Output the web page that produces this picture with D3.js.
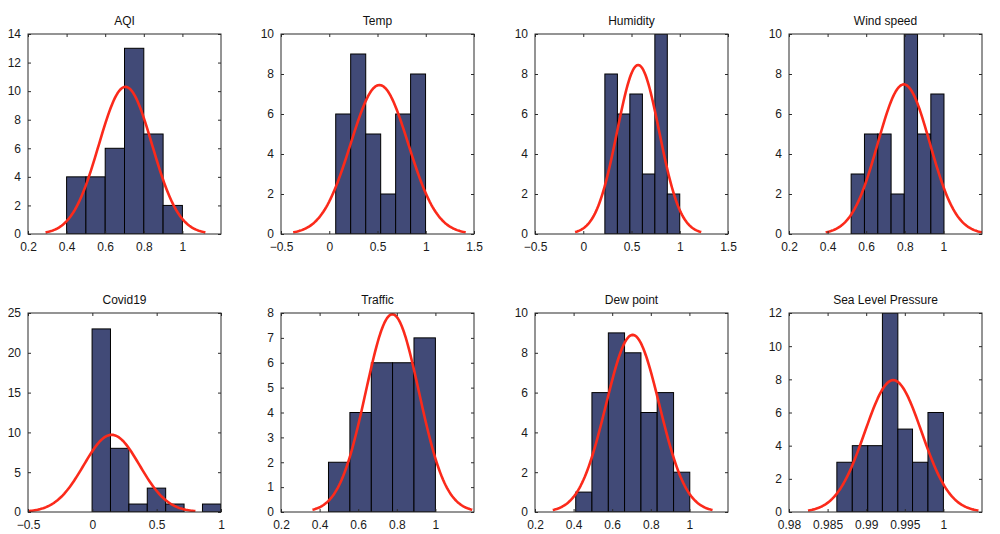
<!DOCTYPE html>
<html><head><meta charset="utf-8">
<script src="https://cdn.jsdelivr.net/npm/d3@7"></script>
<style>
html,body{margin:0;padding:0;background:#fff;}
text{font-family:"Liberation Sans",Arial,sans-serif;}
</style></head>
<body>
<svg id="chart" width="1000" height="534"></svg>
<script>
// ---- data ----
const titles = ["AQI","Temp","Humidity","Wind speed","Covid19","Traffic","Dew point","Sea Level Pressure"];

const binEdges = [
  [0.4,0.5,0.6,0.7,0.8,0.9,1.0],
  [0.067,0.222,0.378,0.533,0.688,0.843,0.998],
  [0.224,0.354,0.483,0.613,0.742,0.871,1.0],
  [0.522,0.591,0.660,0.729,0.797,0.866,0.935,1.003],
  [-0.002,0.141,0.284,0.427,0.570,0.713,0.856,1.0],
  [0.446,0.557,0.668,0.778,0.889,1.0],
  [0.411,0.495,0.580,0.664,0.749,0.833,0.918,1.002],
  [0.9862,0.9882,0.9902,0.9921,0.9941,0.9960,0.9980,1.0000]
];
const counts = [
  [4,4,6,13,7,2],
  [6,9,5,2,6,8],
  [8,6,7,3,10,2],
  [3,5,5,2,10,5,7],
  [23,8,1,3,1,0,1],
  [2,4,6,6,7],
  [1,6,9,8,5,6,2],
  [3,4,4,12,5,3,6]
];
// fitted normal curve: mean, sigma, peak height
const fitMean  = [0.705, 0.52, 0.569, 0.795, 0.15, 0.777, 0.706, 0.9935];
const fitSigma = [0.138, 0.298, 0.218, 0.135, 0.217, 0.138, 0.138, 0.00368];
const fitPeak  = [10.3, 7.45, 8.45, 7.48, 9.7, 7.95, 8.9, 7.95];

const xDomains = [[0.2,1.2],[-0.5,1.5],[-0.5,1.5],[0.2,1.2],[-0.5,1],[0.2,1.2],[0.2,1.2],[0.98,1.005]];
const yDomains = [[0,14],[0,10],[0,10],[0,10],[0,25],[0,8],[0,10],[0,12]];
const xTicks = [
  [0.2,0.4,0.6,0.8,1],
  [-0.5,0,0.5,1,1.5],
  [-0.5,0,0.5,1,1.5],
  [0.2,0.4,0.6,0.8,1],
  [-0.5,0,0.5,1],
  [0.2,0.4,0.6,0.8,1],
  [0.2,0.4,0.6,0.8,1],
  [0.98,0.985,0.99,0.995,1]
];
const yTicks = [
  [0,2,4,6,8,10,12,14],
  [0,2,4,6,8,10],
  [0,2,4,6,8,10],
  [0,2,4,6,8,10],
  [0,5,10,15,20,25],
  [0,1,2,3,4,5,6,7,8],
  [0,2,4,6,8,10],
  [0,2,4,6,8,10,12]
];

// ---- layout ----
const svg = d3.select("#chart");
const panelLeft = [28, 281, 535, 789];
const panelTop = [34, 313];
const pw = 193, ph = [200, 199];
const barFill = "#414a77";
const curveColor = "#fb2a1b";
const axisColor = "#2b2b2b";
const fmt = v => d3.format("~g")(v);

titles.forEach((title, i) => {
  const row = Math.floor(i / 4), col = i % 4;
  const x0 = panelLeft[col], y0 = panelTop[row], h = ph[row];
  const g = svg.append("g").attr("transform", `translate(${x0},${y0})`);
  const x = d3.scaleLinear().domain(xDomains[i]).range([0, pw]);
  const y = d3.scaleLinear().domain(yDomains[i]).range([h, 0]);

  const clipId = "clip" + i;
  g.append("clipPath").attr("id", clipId).append("rect")
    .attr("x", 0).attr("y", 0).attr("width", pw).attr("height", h);

  const plot = g.append("g").attr("clip-path", `url(#${clipId})`);
  const edges = binEdges[i];
  const bins = counts[i].map((c, k) => ({x0: edges[k], x1: edges[k + 1], c}));
  plot.selectAll("rect.bar").data(bins.filter(b => b.c > 0)).join("rect")
    .attr("class", "bar")
    .attr("x", b => x(b.x0))
    .attr("width", b => x(b.x1) - x(b.x0))
    .attr("y", b => y(b.c))
    .attr("height", b => y(0) - y(b.c))
    .attr("fill", barFill)
    .attr("stroke", "#000")
    .attr("stroke-width", 1);

  const mu = fitMean[i], sd = fitSigma[i], pk = fitPeak[i];
  const xs = d3.range(0, 121).map(k => mu - 3 * sd + k * (6 * sd) / 120);
  const line = d3.line()
    .x(v => x(v))
    .y(v => y(pk * Math.exp(-((v - mu) ** 2) / (2 * sd * sd))));
  plot.append("path").datum(xs).attr("d", line)
    .attr("fill", "none").attr("stroke", curveColor)
    .attr("stroke-width", 2.6).attr("stroke-linejoin", "round");

  // axes with inward ticks
  const tickLen = 3;
  const xb = g.append("g").attr("transform", `translate(0,${h})`)
    .call(d3.axisBottom(x).tickValues(xTicks[i]).tickFormat(fmt).tickSizeInner(-tickLen).tickSizeOuter(0).tickPadding(8));
  const xt = g.append("g")
    .call(d3.axisTop(x).tickValues(xTicks[i]).tickFormat("").tickSizeInner(-tickLen).tickSizeOuter(0));
  const yl = g.append("g")
    .call(d3.axisLeft(y).tickValues(yTicks[i]).tickFormat(fmt).tickSizeInner(-tickLen).tickSizeOuter(0).tickPadding(7));
  const yr = g.append("g").attr("transform", `translate(${pw},0)`)
    .call(d3.axisRight(y).tickValues(yTicks[i]).tickFormat("").tickSizeInner(-tickLen).tickSizeOuter(0));
  [xb, xt, yl, yr].forEach(a => {
    a.select(".domain").remove();
    a.selectAll("line").attr("stroke", axisColor);
    a.selectAll("text").attr("fill", "#1a1a1a").style("font-size", "12px")
      .style("font-family", "'Liberation Sans', Arial, sans-serif");
  });
  g.append("rect").attr("x", 0).attr("y", 0).attr("width", pw).attr("height", h)
    .attr("fill", "none").attr("stroke", axisColor).attr("stroke-width", 1);

  g.append("text").attr("x", pw / 2).attr("y", -9.5)
    .attr("text-anchor", "middle").style("font-size", "12px").attr("fill", "#111")
    .text(title);
});
</script>
</body></html>
